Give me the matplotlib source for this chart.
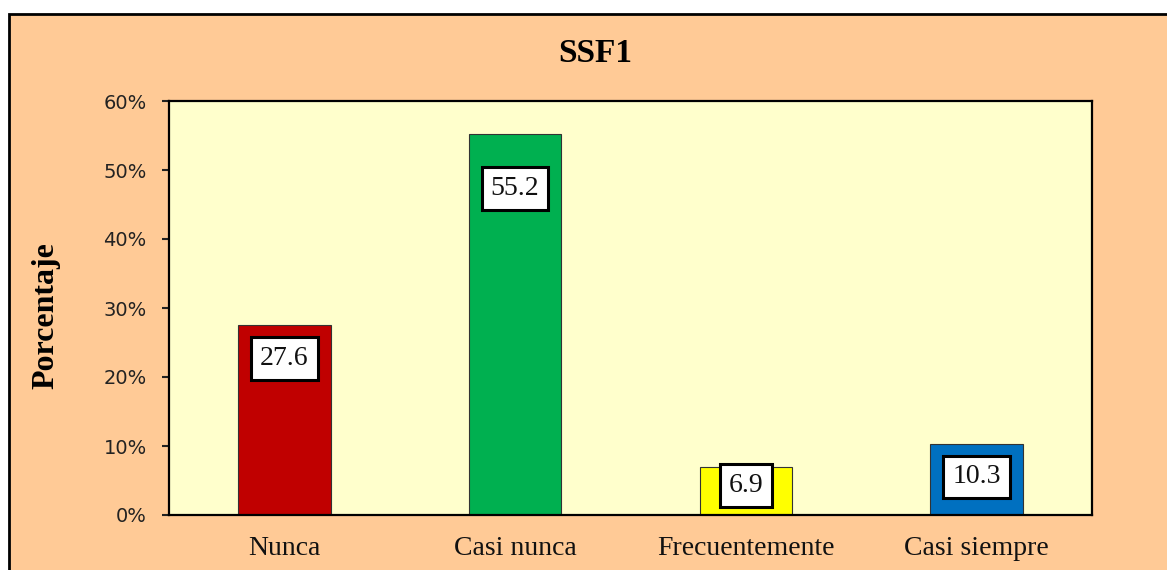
import matplotlib
matplotlib.use("Agg")
import matplotlib.pyplot as plt
from matplotlib.patches import Rectangle
from matplotlib.ticker import FuncFormatter

categories = ["Nunca", "Casi nunca", "Frecuentemente", "Casi siempre"]
values = [27.6, 55.2, 6.9, 10.3]
colors = ["#C00000", "#00B050", "#FFFF00", "#0070C0"]
label_offsets_px = [-34, -54, -18, -33]
yticks = [0, 10, 20, 30, 40, 50, 60]
title = "SSF1"
ylabel = "Porcentaje"

fig = plt.figure(figsize=(11.67, 5.70), dpi=100, facecolor="white")
bg = Rectangle((9 / 1167, -0.2), 2.0, (1 - 14 / 570) + 0.2,
               transform=fig.transFigure, facecolor="#FFCA96",
               edgecolor="black", linewidth=2, zorder=-10)
fig.patches.append(bg)

ax = fig.add_axes([169 / 1167, 55 / 570, 923 / 1167, 414 / 570])
ax.set_facecolor("#FFFFCC")
x = list(range(len(categories)))
ax.bar(x, values, width=0.4, color=colors, edgecolor="#333333", linewidth=0.8, zorder=2)
ax.set_xlim(-0.5, len(categories) - 0.5)
ax.set_ylim(0, 60)
ax.set_yticks(yticks)
ax.yaxis.set_major_formatter(FuncFormatter(lambda v, p: f"{int(v)}%"))
ax.set_xticks(x)
ax.set_xticklabels(categories, fontfamily="Liberation Serif", fontsize=20, color="#111111")
ax.tick_params(axis="x", length=0, pad=15)
ax.tick_params(axis="y", length=5, width=1.5, pad=11, labelsize=14, colors="#222222")
for lab in ax.get_yticklabels():
    lab.set_fontfamily("DejaVu Sans")
for s in ax.spines.values():
    s.set_linewidth(1.6)
    s.set_color("black")

for xi, v, off in zip(x, values, label_offsets_px):
    ax.annotate(f"{v}", xy=(xi, v), xytext=(0, off), textcoords="offset pixels",
                ha="center", va="center", fontfamily="Liberation Serif", fontsize=20,
                color="#111111", zorder=3,
                bbox=dict(boxstyle="square,pad=0.32", facecolor="white",
                          edgecolor="black", linewidth=2.2))

fig.text(595 / 1167, 1 - 53 / 570, title, ha="center", va="center",
         fontfamily="Liberation Serif", fontweight="bold", fontsize=24)
fig.text(46 / 1167, 1 - 316 / 570, ylabel, ha="center", va="center", rotation=90,
         fontfamily="Liberation Serif", fontweight="bold", fontsize=23)

fig.savefig("out.png", dpi=100, facecolor=fig.get_facecolor())
